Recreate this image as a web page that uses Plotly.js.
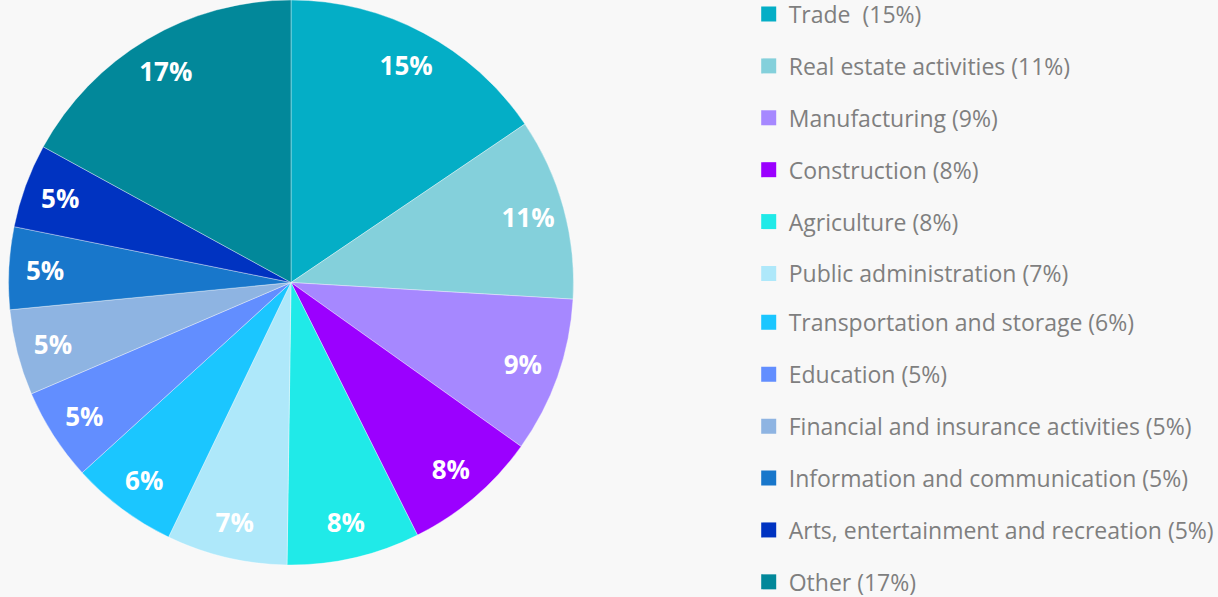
<!DOCTYPE html>
<html>
<head>
<meta charset="utf-8">
<script src="https://cdn.plot.ly/plotly-3.0.1.min.js"></script>
<style>
  html, body { margin: 0; padding: 0; background: #F8F8F8; }
  #chart { width: 1218px; height: 597px; }
</style>
</head>
<body>
<div id="chart"></div>
<script>
// Categories (legend labels)
var categories = [
  "Trade  (15%)",
  "Real estate activities (11%)",
  "Manufacturing (9%)",
  "Construction (8%)",
  "Agriculture (8%)",
  "Public administration (7%)",
  "Transportation and storage (6%)",
  "Education (5%)",
  "Financial and insurance activities (5%)",
  "Information and communication (5%)",
  "Arts, entertainment and recreation (5%)",
  "Other (17%)"
];
// Shares
var shares = [15.5, 10.4, 8.9, 7.75, 7.6, 6.9, 6.1, 5.3, 4.9, 4.7, 4.8, 17.0];
// Labels drawn in slices
var sliceLabels = ["15%", "11%", "9%", "8%", "8%", "7%", "6%", "5%", "5%", "5%", "5%", "17%"];
// Colours
var colors = [
  "#04AEC6", "#84D0DB", "#A688FF", "#9B00FF", "#20EAE8", "#AEE8FA",
  "#1BC6FF", "#628EFF", "#8EB4E2", "#1877CB", "#0033C1", "#02889A"
];

var pieDomain = { x: [0.00657, 0.4713], y: [0.0536, 1.0] };

var traces = [
  // the filled pie
  {
    type: "pie",
    labels: categories,
    values: shares,
    textinfo: "none",
    sort: false,
    direction: "clockwise",
    rotation: 0,
    marker: { colors: colors, line: { color: "rgba(255,255,255,0.6)", width: 0.6 } },
    domain: pieDomain,
    showlegend: false,
    hoverinfo: "skip"
  },
  // transparent ring carrying the percentage labels near the rim
  {
    type: "pie",
    labels: categories,
    values: shares,
    hole: 0.74,
    text: sliceLabels,
    textinfo: "text",
    textposition: "inside",
    insidetextorientation: "horizontal",
    textfont: { family: "Open Sans, sans-serif", size: 26, color: "#FFFFFF", weight: "bold" },
    sort: false,
    direction: "clockwise",
    rotation: 0,
    marker: { colors: categories.map(function () { return "rgba(0,0,0,0)"; }), line: { width: 0 } },
    domain: pieDomain,
    showlegend: false,
    hoverinfo: "skip"
  }
];

// Legend entries, one per category (split over two legend boxes)
categories.forEach(function (c, i) {
  traces.push({
    type: "scatter",
    mode: "markers",
    x: [null], y: [null],
    name: c,
    legend: i < 6 ? "legend" : "legend2",
    legendgroup: "g" + i,
    marker: { symbol: "square", size: 15, color: colors[i] },
    showlegend: true,
    hoverinfo: "skip"
  });
});

var legendStyle = {
  x: 0.6147, xanchor: "left",
  yanchor: "top",
  bgcolor: "rgba(0,0,0,0)",
  font: { family: "Open Sans, sans-serif", size: 23, color: "#7F7F7F" },
  tracegroupgap: 19,
  itemwidth: 30
};

var layout = {
  width: 1218,
  height: 597,
  margin: { l: 0, r: 0, t: 0, b: 0, autoexpand: false },
  paper_bgcolor: "#F8F8F8",
  plot_bgcolor: "#F8F8F8",
  xaxis: { visible: false },
  yaxis: { visible: false },
  showlegend: true,
  legend: Object.assign({}, legendStyle, { y: 1.0125 }),
  legend2: Object.assign({}, legendStyle, { y: 0.496 })
};

Plotly.newPlot("chart", traces, layout, { displayModeBar: false, staticPlot: true });
</script>
</body>
</html>
